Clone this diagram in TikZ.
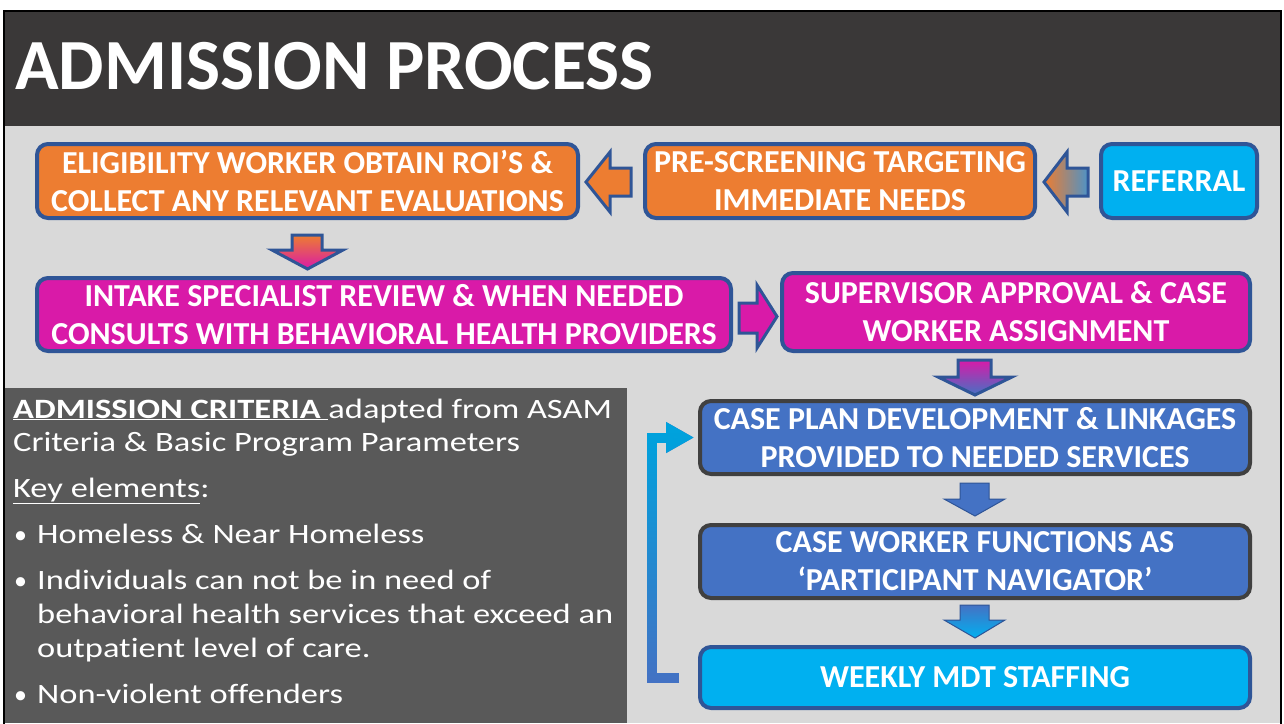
\documentclass[tikz,border=0pt]{standalone}
\usepackage{fontspec}
\setmainfont{Carlito}
\newfontfamily\panelfont[FakeStretch=1.23,Ligatures=NoCommon]{Carlito}
\usetikzlibrary{calc,arrows.meta,fadings}
\definecolor{slidegray}{HTML}{D9D9D9}
\definecolor{titlebar}{HTML}{3A3838}
\definecolor{panel}{HTML}{595959}
\definecolor{orng}{HTML}{ED7D31}
\definecolor{mgnt}{HTML}{D91AA8}
\definecolor{cyn}{HTML}{00B0F0}
\definecolor{blu}{HTML}{4472C4}
\definecolor{edgeblue}{HTML}{2F5597}
\definecolor{edgegray}{HTML}{404040}
\definecolor{loopcyan}{HTML}{00A2DD}
\definecolor{steel}{HTML}{4E93C6}
\tikzfading[name=topopaque, top color=transparent!0, bottom color=transparent!100]
\begin{document}
\begin{tikzpicture}[x=1pt,y=-1pt,
  box/.style={rounded corners=11pt, line width=4pt, draw=edgeblue, text=white,
    align=center, font=\bfseries\fontsize{32}{38}\selectfont, inner sep=0pt},
  orangebox/.style={box, fill=orng},
  magbox/.style={box, fill=mgnt},
  cyanbox/.style={box, fill=cyn},
  bluebox/.style={box, fill=blu, draw=edgegray},
  blockarrow/.style={draw=edgeblue, line width=3pt, line join=miter},
  paneltext/.style={anchor=base west, inner sep=0pt, text=white, font=\panelfont\fontsize{28}{34}\selectfont},
  bulletmark/.style={anchor=base west, inner sep=0pt, text=white, font=\fontsize{26}{30}\selectfont},
  loopline/.style={line width=10pt, -{Triangle[length=28pt,width=29pt]}}
]
\useasboundingbox (0,0) rectangle (1284,723);
\fill[white] (0,0) rectangle (1284,723);
\fill[slidegray] (4,11) rectangle (1281,723);
\fill[titlebar] (4,11) rectangle (1281,126);
\draw[black, line width=2pt] (4,730) -- (4,11) -- (1281,11) -- (1281,730);
\node[anchor=base west, inner sep=0pt, text=white, font=\bfseries\fontsize{72}{80}\selectfont] (title) at (15,89) {ADMISSION PROCESS};

% process boxes
\node[orangebox, minimum width=541pt, minimum height=74pt] (elig) at (307.5,181) {ELIGIBILITY WORKER OBTAIN ROI’S \&\\COLLECT ANY RELEVANT EVALUATIONS};
\node[orangebox, minimum width=390pt, minimum height=74pt] (pre) at (840,181) {PRE-SCREENING TARGETING\\IMMEDIATE NEEDS};
\node[cyanbox, minimum width=156pt, minimum height=74pt] (ref) at (1179,181) {REFERRAL};
\node[magbox, minimum width=694pt, minimum height=73pt] (intake) at (384,314.5) {INTAKE SPECIALIST REVIEW \& WHEN NEEDED\\CONSULTS WITH BEHAVIORAL HEALTH PROVIDERS};
\node[magbox, minimum width=468pt, minimum height=78pt] (sup) at (1016,312) {SUPERVISOR APPROVAL \& CASE\\WORKER ASSIGNMENT};
\node[bluebox, minimum width=550pt, minimum height=73pt] (plan) at (975,437.5) {CASE PLAN DEVELOPMENT \& LINKAGES\\PROVIDED TO NEEDED SERVICES};
\node[bluebox, minimum width=550pt, minimum height=73pt] (cw) at (975,561.5) {CASE WORKER FUNCTIONS AS\\‘PARTICIPANT NAVIGATOR’};
\node[cyanbox, minimum width=550pt, minimum height=61pt] (mdt) at (975,677.5) {WEEKLY MDT STAFFING};

% block arrows
\path[blockarrow, fill=orng] (586,182) -- (610,152) -- (610,168) -- (631,168) -- (631,196) -- (610,196) -- (610,212) -- cycle;
\path[blockarrow, left color=orng, middle color=orng, right color=steel] (1044,182) -- (1067,152) -- (1067,168) -- (1088,168) -- (1088,196) -- (1067,196) -- (1067,212) -- cycle;
\path[blockarrow, top color=orng, middle color=orng!40!mgnt, bottom color=mgnt] (292,235) -- (322,235) -- (322,250) -- (343,250) -- (307.5,269) -- (272,250) -- (292,250) -- cycle;
\path[blockarrow, fill=mgnt] (739,303) -- (757,303) -- (757,285) -- (777,316.5) -- (757,348) -- (757,333) -- (739,333) -- cycle;
\path[blockarrow, top color=mgnt, bottom color=blu] (958,360) -- (991,360) -- (991,377) -- (1012,377) -- (975,395) -- (938,377) -- (958,377) -- cycle;
\path[draw=edgeblue, line width=1pt, fill=blu] (960,483) -- (989,483) -- (989,499) -- (1005,499) -- (975,516) -- (944,499) -- (960,499) -- cycle;
\path[draw=edgeblue, line width=1pt, top color=blu, middle color=blu, bottom color=cyn] (960,605) -- (989,605) -- (989,620) -- (1005,620) -- (975,638) -- (944,620) -- (960,620) -- cycle;

% loop connector
\draw[loopline, blu] ($(mdt.west)+(-19,0)$) -- ++(-27,0) |- ([xshift=-4pt]plan.west);
\draw[loopline, loopcyan, path fading=topopaque, fit fading] ($(mdt.west)+(-19,0)$) -- ++(-27,0) |- ([xshift=-4pt]plan.west);

% criteria panel
\fill[panel] (5,388) rectangle (627,723);
\node[paneltext] (crit1) at (13,418) {\underline{\textbf{ADMISSION CRITERIA }}adapted from ASAM};
\node[paneltext] (crit2) at (13,451) {Criteria \& Basic Program Parameters};
\node[paneltext] (key) at (13,497) {\underline{Key elements}:};
\node[bulletmark] (b1) at (14,543) {•};
\node[paneltext] (t1) at (37,543) {Homeless \& Near Homeless};
\node[bulletmark] (b2) at (14,589) {•};
\node[paneltext] (t2) at (37,589) {Individuals can not be in need of};
\node[paneltext] (t2b) at (37,623) {behavioral health services that exceed an};
\node[paneltext] (t2c) at (37,657) {outpatient level of care.};
\node[bulletmark] (b3) at (14,703) {•};
\node[paneltext] (t3) at (37,703) {Non-violent offenders};
\end{tikzpicture}
\end{document}
